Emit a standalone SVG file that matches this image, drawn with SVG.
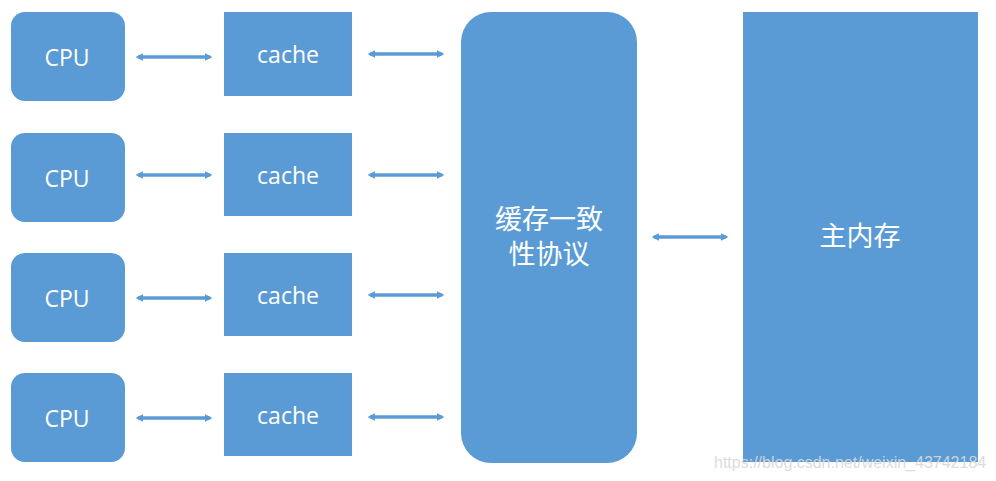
<svg xmlns="http://www.w3.org/2000/svg" width="996" height="481" viewBox="0 0 996 481">
<defs>
<style>
.box{fill:#5B9BD5}
.t{fill:#fff;font-family:"Open Sans","Liberation Sans",sans-serif;font-size:23px;text-anchor:middle;dominant-baseline:central}
.cn{fill:#fff;font-family:"Noto Sans CJK SC",sans-serif;font-size:27px;text-anchor:middle}
.c{stroke:#5B9BD5;stroke-width:3.5;fill:none;marker-start:url(#a);marker-end:url(#a)}
.wm{fill:#d9d9d9;font-family:"Liberation Sans",sans-serif;font-size:16px;opacity:0.9}
</style>
<marker id="a" viewBox="0 0 10 10" refX="7" refY="5" markerWidth="2.2" markerHeight="2.2" orient="auto-start-reverse">
<path d="M0,0 L10,5 L0,10 Z" fill="#5B9BD5"/>
</marker>
</defs>
<rect width="996" height="481" fill="#fff"/>
<g id="cpu1"><rect class="box" x="11" y="12" width="114" height="89" rx="14"/><text class="t" x="67" y="57">CPU</text></g>
<g id="cpu2"><rect class="box" x="11" y="133" width="114" height="89" rx="14"/><text class="t" x="67" y="178">CPU</text></g>
<g id="cpu3"><rect class="box" x="11" y="253" width="114" height="89" rx="14"/><text class="t" x="67" y="298">CPU</text></g>
<g id="cpu4"><rect class="box" x="11" y="373" width="114" height="89" rx="14"/><text class="t" x="67" y="418">CPU</text></g>
<g id="cache1"><rect class="box" x="224" y="12" width="128" height="84"/><text class="t" x="288" y="54">cache</text></g>
<g id="cache2"><rect class="box" x="224" y="133" width="128" height="83"/><text class="t" x="288" y="175">cache</text></g>
<g id="cache3"><rect class="box" x="224" y="253" width="128" height="83"/><text class="t" x="288" y="295">cache</text></g>
<g id="cache4"><rect class="box" x="224" y="373" width="128" height="83"/><text class="t" x="288" y="415">cache</text></g>
<g id="protocol"><rect class="box" x="461" y="12" width="176" height="451" rx="30"/><text class="cn" x="549" y="229">缓存一致</text><text class="cn" x="549" y="264">性协议</text></g>
<g id="memory"><rect class="box" x="743" y="12" width="235" height="450"/><text class="cn" x="860" y="246">主内存</text></g>
<g id="connectors">
<line class="c" x1="138" y1="57" x2="210" y2="57"/>
<line class="c" x1="138" y1="175" x2="210" y2="175"/>
<line class="c" x1="138" y1="298" x2="210" y2="298"/>
<line class="c" x1="138" y1="418" x2="210" y2="418"/>
<line class="c" x1="370" y1="54" x2="442" y2="54"/>
<line class="c" x1="370" y1="175" x2="442" y2="175"/>
<line class="c" x1="370" y1="295" x2="442" y2="295"/>
<line class="c" x1="370" y1="417" x2="442" y2="417"/>
<line class="c" x1="654" y1="237" x2="726" y2="237"/>
</g>
<text class="wm" x="714" y="468">https://blog.csdn.net/weixin_43742184</text>
</svg>
